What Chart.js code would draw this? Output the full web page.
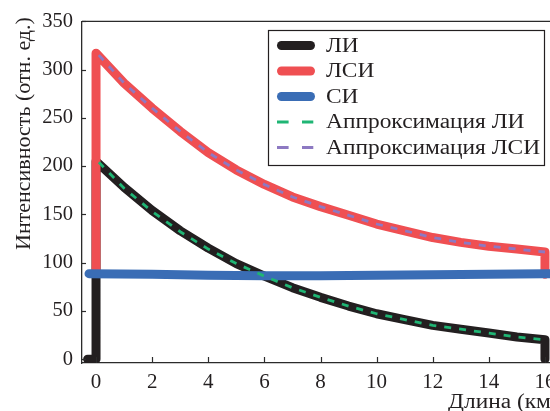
<!DOCTYPE html>
<html>
<head>
<meta charset="utf-8">
<script src="https://cdn.jsdelivr.net/npm/chart.js@4.4.1/dist/chart.umd.min.js"></script>
<style>
html, body { margin: 0; padding: 0; background: #fff; overflow: hidden; }
#wrap { width: 566px; height: 411px; }
</style>
</head>
<body>
<div id="wrap"><canvas id="chart" width="566" height="411"></canvas></div>
<script>
// values
const li_x = [-0.3, 0, 0, 1, 2, 3, 4, 5, 6, 7, 8, 9, 10, 11, 12, 13, 14, 15, 16, 16];
const li_y = [0, 0, 205, 178, 154, 133, 115, 99, 86, 74, 64, 55, 47, 41, 35, 31, 27, 23, 20, 0];

const lsi_x = [0, 0, 1, 2, 3, 4, 5, 6, 7, 8, 9, 10, 11, 12, 13, 14, 15, 16, 16];
const lsi_y = [89, 317, 286, 260, 236, 214, 196, 181, 168, 158, 149, 140, 133, 126, 121, 117, 114, 111, 88];

const si_x = [-0.25, 2, 4, 6, 8, 10, 12, 14, 16, 16.6];
const si_y = [88.5, 88, 87, 86.5, 86.5, 87, 87.5, 88, 88.5, 88.5];

const fit_li_x = [0.1, 1, 2, 3, 4, 5, 6, 7, 8, 9, 10, 11, 12, 13, 14, 15, 16];
const fit_li_y = [204, 177, 153, 132, 114, 99, 86, 74, 64, 55, 47, 41, 35, 31, 27, 23, 20];

const fit_lsi_x = [0.1, 1, 2, 3, 4, 5, 6, 7, 8, 9, 10, 11, 12, 13, 14, 15, 16];
const fit_lsi_y = [315, 286, 260, 236, 214, 196, 181, 168, 158, 149, 140, 133, 126, 121, 117, 114, 111];

const x_ticks = [0, 2, 4, 6, 8, 10, 12, 14, 16];
const y_ticks = [0, 50, 100, 150, 200, 250, 300, 350];

const labels = ["ЛИ", "ЛСИ", "СИ", "Аппроксимация ЛИ", "Аппроксимация ЛСИ"];
const x_title = "Длина (км)";
const y_title = "Интенсивность (отн. ед.)";

const font_family = "'Liberation Serif', 'Times New Roman', serif";
const text_color = "#231f20";
const axis_color = "#2b2b2b";

function to_points(xs, ys){
    return xs.map((x, i) => ({x: x, y: ys[i]}));
}

let datasets = {
    datasets: [
        {label: labels[0], data: to_points(li_x, li_y), borderColor: "#231f20", borderWidth: 9, order: 5},
        {label: labels[1], data: to_points(lsi_x, lsi_y), borderColor: "#ef4f52", borderWidth: 9, order: 4},
        {label: labels[2], data: to_points(si_x, si_y), borderColor: "#3a6db5", borderWidth: 9, order: 3},
        {label: labels[3], data: to_points(fit_li_x, fit_li_y), borderColor: "#1fb574", borderWidth: 2.8, borderDash: [7, 8], borderCapStyle: "butt", order: 2},
        {label: labels[4], data: to_points(fit_lsi_x, fit_lsi_y), borderColor: "#8d79c2", borderWidth: 2.8, borderDash: [7, 8], borderCapStyle: "butt", order: 1},
    ],
};

datasets.datasets.forEach(ds => {
    ds.pointRadius = 0;
    ds.fill = false;
    ds.tension = 0;
    ds.borderJoinStyle = "round";
    if (!ds.borderCapStyle) ds.borderCapStyle = "round";
});

// text in the source figure runs a little wider than Liberation Serif
function stretched_text(ctx, text, x, y, angle, stretch){
    ctx.save();
    ctx.translate(x, y);
    ctx.rotate(angle);
    ctx.scale(stretch, 1);
    ctx.fillText(text, 0, 0);
    ctx.restore();
}

// frame top line, inward tick marks, axis titles, boxed legend
const frame_plugin = {
    id: "frame",
    afterDatasetsDraw(chart){
        const {ctx, chartArea, scales} = chart;
        ctx.save();
        ctx.strokeStyle = axis_color;
        ctx.lineWidth = 1.3;
        ctx.beginPath();
        ctx.moveTo(chartArea.left, chartArea.top);
        ctx.lineTo(chartArea.right, chartArea.top);
        ctx.stroke();
        ctx.lineWidth = 1.2;
        scales.x.ticks.forEach(t => {
            const px = Math.round(scales.x.getPixelForValue(t.value)) + 0.5;
            ctx.beginPath();
            ctx.moveTo(px, chartArea.bottom);
            ctx.lineTo(px, chartArea.bottom - 6);
            ctx.stroke();
        });
        scales.y.ticks.forEach(t => {
            const py = Math.round(scales.y.getPixelForValue(t.value)) + 0.5;
            ctx.beginPath();
            ctx.moveTo(chartArea.left, py);
            ctx.lineTo(chartArea.left + 4, py);
            ctx.stroke();
        });
        ctx.restore();
    },
    afterDraw(chart){
        const ctx = chart.ctx;
        ctx.save();
        ctx.font = "20px " + font_family;
        ctx.fillStyle = text_color;
        ctx.textBaseline = "middle";
        ctx.textAlign = "left";
        stretched_text(ctx, y_title, 25, 250, -Math.PI / 2, 1.1);
        stretched_text(ctx, x_title, 448, 403, 0, 1.17);

        ctx.fillStyle = "#fff";
        ctx.fillRect(268, 30, 276, 135);
        ctx.strokeStyle = text_color;
        ctx.lineWidth = 1.2;
        ctx.strokeRect(268.5, 30.5, 276, 135);
        chart.data.datasets.forEach((ds, i) => {
            const y = 45.5 + i * 25.5;
            ctx.strokeStyle = ds.borderColor;
            ctx.beginPath();
            if (ds.borderDash){
                ctx.lineWidth = 3;
                ctx.lineCap = "butt";
                ctx.setLineDash([11.6, 13.4]);
                ctx.moveTo(277, y);
                ctx.lineTo(313.3, y);
            } else {
                ctx.lineWidth = 9;
                ctx.lineCap = "round";
                ctx.setLineDash([]);
                ctx.moveTo(281.5, y);
                ctx.lineTo(310.5, y);
            }
            ctx.stroke();
            ctx.setLineDash([]);
            ctx.fillStyle = text_color;
            stretched_text(ctx, ds.label, 326, y + 1, 0, 1.17);
        });
        ctx.restore();
    }
};

let options = {
    responsive: false,
    animation: false,
    devicePixelRatio: 1,
    layout: {padding: {top: 17, right: 7, left: 0, bottom: 0}},
    scales: {
        x: {
            type: "linear",
            position: "bottom",
            min: -0.5,
            max: 16.5,
            afterBuildTicks: scale => { scale.ticks = x_ticks.map(v => ({value: v})); },
            afterFit: scale => { scale.height = 48; },
            grid: {display: true, drawOnChartArea: false, drawTicks: false},
            border: {display: true, color: axis_color, width: 1.3},
            ticks: {color: text_color, font: {family: font_family, size: 21}, padding: 7, maxRotation: 0}
        },
        y: {
            type: "linear",
            min: -4,
            max: 350,
            afterBuildTicks: scale => { scale.ticks = y_ticks.map(v => ({value: v})); },
            afterFit: scale => { scale.width = 82; },
            grid: {display: true, drawOnChartArea: false, drawTicks: false},
            border: {display: true, color: axis_color, width: 1.3},
            ticks: {color: text_color, font: {family: font_family, size: 20.5}, padding: 9}
        }
    },
    plugins: {
        legend: {display: false},
        tooltip: {enabled: false}
    }
};

const ctx = document.getElementById("chart");
let chart = new Chart(ctx, {
    type: "line",
    data: datasets,
    options: options,
    plugins: [frame_plugin]
});
</script>
</body>
</html>
